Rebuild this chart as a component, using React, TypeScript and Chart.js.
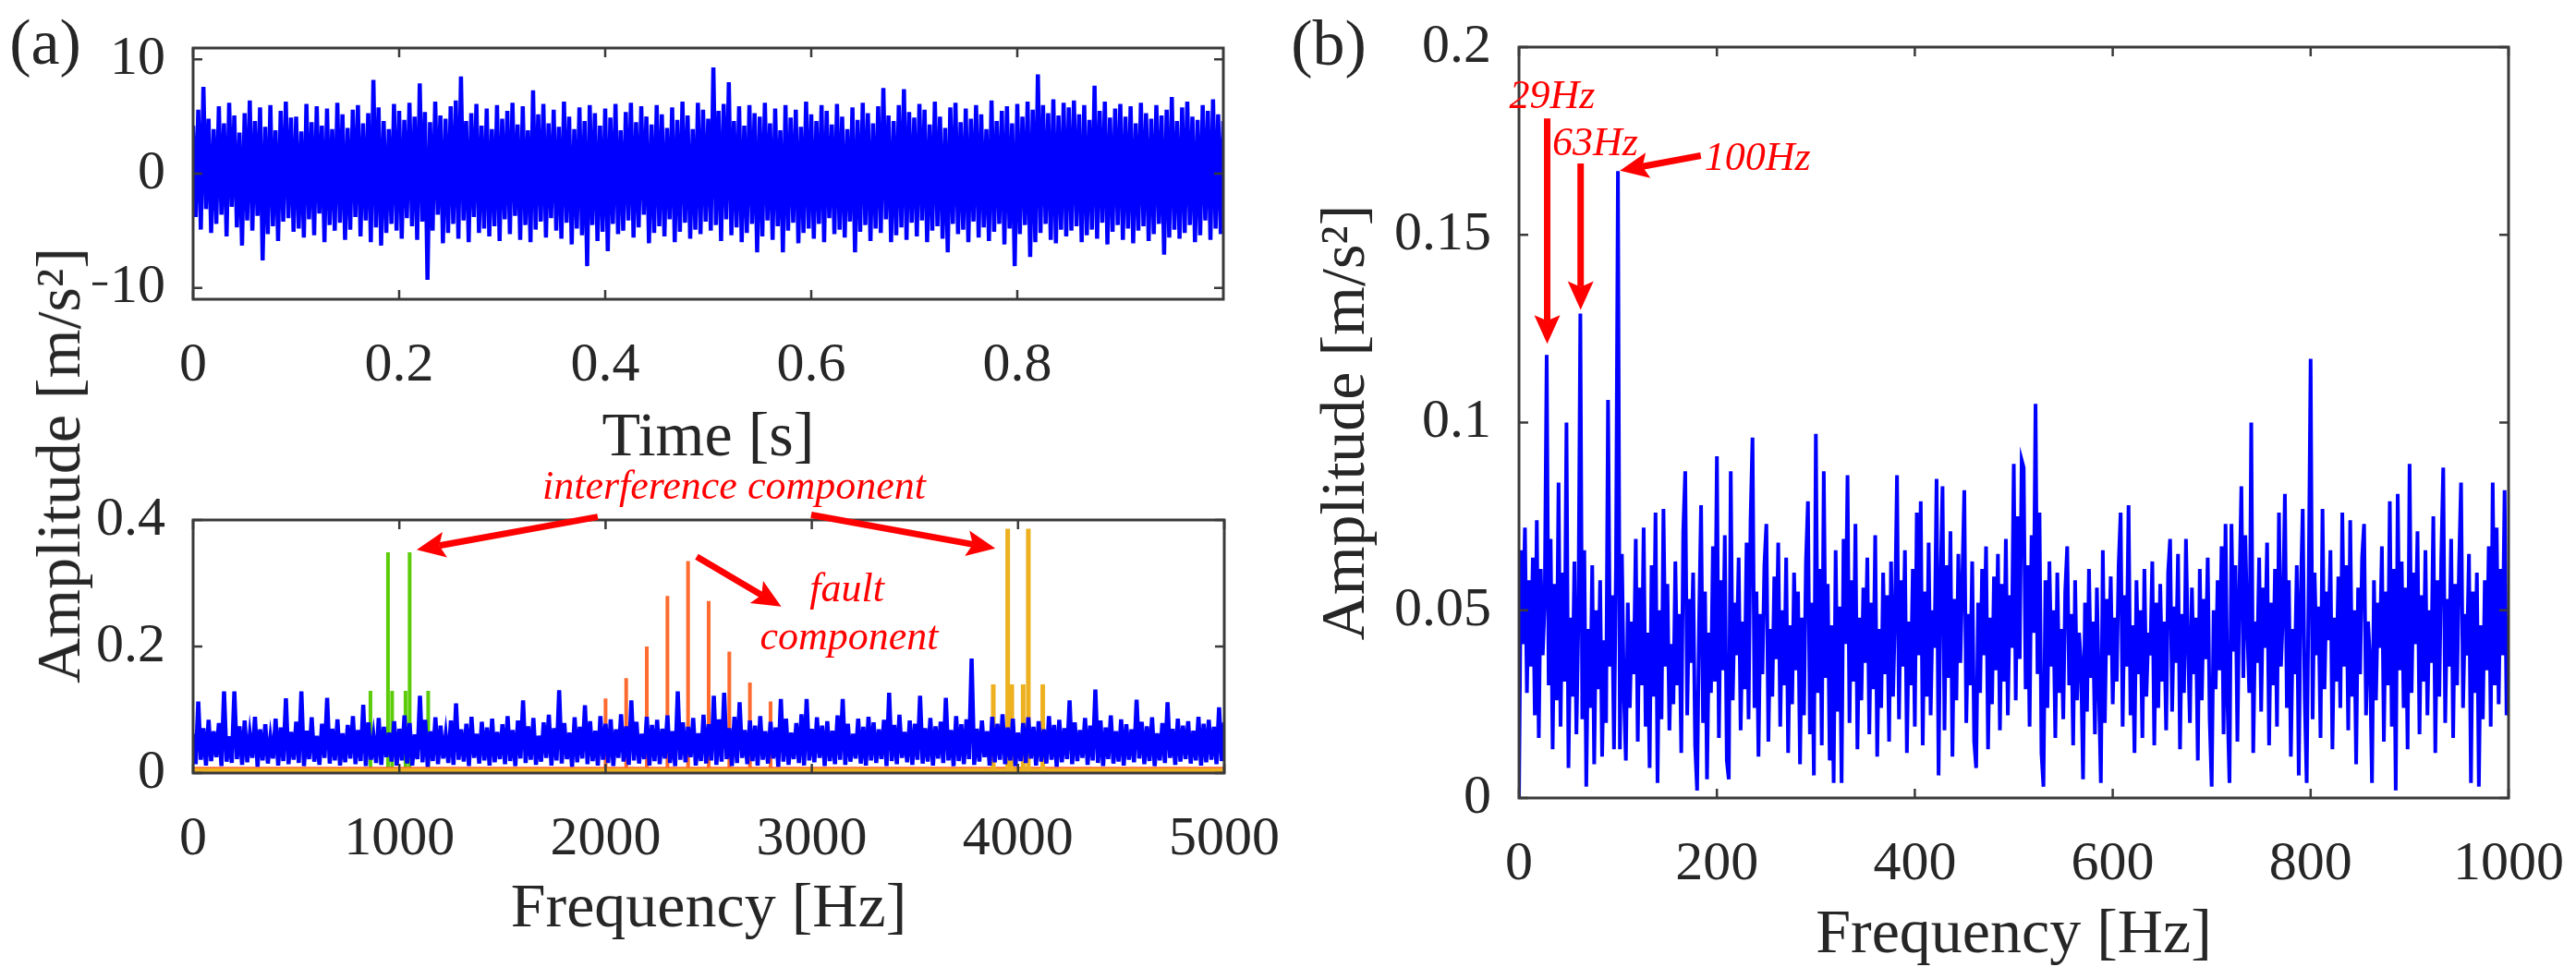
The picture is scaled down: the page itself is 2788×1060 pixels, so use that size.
import React, { useEffect, useRef } from "react";
import { Chart, registerables } from "chart.js";

Chart.register(...registerables);

const FONT = "'Liberation Serif', 'Times New Roman', serif";
const INK = "#262626";
const BOX = "#3a3a3a";

// ---------------- (a) top: time signal ----------------
const timeStep = 0.0025; // s
const timeSignal = [
  4.2, -3.8, 5.6, -4.9, 7.6, -3.1, 4.8, -5.2, 3.9, -4.4, 5.9, -3.6, 4.4, -5.5, 6.2, -2.9, 5.1, -4.7, 3.6, -6.3,
  5.3, -4.1, 6.4, -5.0, 4.6, -3.7, 5.8, -7.6, 4.1, -5.3, 6.0, -4.6, 3.8, -5.9, 5.5, -4.2, 6.3, -3.9, 4.9, -5.1,
  5.0, -4.8, 3.7, -5.6, 6.1, -4.0, 4.5, -5.4, 5.9, -3.5, 4.2, -6.0, 5.7, -4.5, 3.9, -5.0, 6.2, -4.3, 5.2, -5.8,
  4.0, -4.9, 5.6, -3.8, 6.0, -5.5, 4.4, -4.1, 5.3, -6.0, 8.2, -4.7, 5.8, -6.3, 4.6, -5.2, 3.9, -4.4, 6.1, -5.0,
  5.5, -5.7, 4.7, -3.9, 6.2, -4.6, 5.0, -5.8, 7.9, -4.2, 5.4, -9.3, 4.5, -5.0, 6.3, -3.6, 5.1, -6.1, 4.8, -5.2,
  5.9, -4.4, 6.4, -5.7, 8.5, -4.1, 4.6, -6.0, 5.3, -3.8, 6.1, -5.2, 4.2, -4.8, 5.7, -5.5, 3.9, -4.6, 6.0, -5.9,
  4.8, -4.0, 5.5, -5.3, 6.2, -3.7, 4.3, -5.8, 5.9, -4.5, 3.8, -6.0, 7.3, -4.9, 5.2, -4.2, 6.1, -5.6, 4.4, -3.9,
  5.6, -5.0, 4.1, -5.7, 6.3, -4.3, 5.0, -6.2, 3.9, -4.8, 5.8, -5.4, 4.6, -8.1, 6.0, -4.5, 5.3, -5.9, 4.2, -5.1,
  5.7, -6.8, 4.9, -4.4, 6.1, -5.3, 3.8, -5.0, 5.4, -4.1, 6.2, -5.6, 4.5, -4.7, 5.9, -3.6, 5.0, -6.1, 4.3, -5.2,
  6.0, -4.6, 5.2, -5.5, 4.0, -4.0, 5.8, -6.0, 4.7, -5.1, 6.3, -4.3, 5.1, -5.7, 3.9, -4.9, 6.2, -5.3, 5.6, -4.2,
  4.8, -5.0, 9.3, -4.5, 5.5, -5.9, 6.1, -4.0, 8.0, -5.4, 4.6, -4.7, 5.9, -6.0, 4.2, -5.2, 6.0, -4.4, 5.3, -6.9,
  5.0, -5.5, 6.2, -4.1, 4.4, -5.8, 5.7, -4.6, 3.8, -6.9, 6.0, -5.0, 4.9, -4.3, 5.6, -6.1, 4.1, -5.2, 6.3, -4.8,
  5.2, -5.7, 4.6, -4.4, 6.0, -6.0, 5.5, -3.9, 4.3, -5.3, 6.1, -4.9, 5.0, -5.6, 3.9, -4.2, 5.8, -6.9, 4.7, -5.1,
  6.2, -4.5, 5.3, -5.9, 4.4, -4.8, 5.9, -5.2, 7.5, -4.0, 5.1, -6.0, 4.6, -5.4, 6.0, -4.7, 7.4, -5.8, 5.4, -4.3,
  4.9, -5.5, 6.1, -4.1, 5.6, -6.0, 4.3, -5.0, 6.3, -4.6, 5.0, -5.7, 4.0, -6.9, 5.8, -4.4, 6.2, -5.3, 4.5, -4.9,
  5.7, -6.0, 4.8, -4.2, 6.0, -5.6, 5.2, -4.7, 3.9, -5.9, 6.4, -5.1, 4.6, -4.4, 5.5, -6.2, 5.9, -4.8, 4.4, -8.1,
  6.1, -5.3, 5.0, -4.5, 6.3, -7.3, 5.6, -6.0, 8.7, -5.2, 6.0, -4.4, 5.3, -5.8, 6.5, -6.1, 5.1, -4.9, 6.2, -5.5,
  5.8, -5.0, 6.4, -4.6, 5.2, -6.0, 6.0, -5.4, 4.7, -4.9, 7.7, -5.7, 5.5, -4.3, 6.3, -6.2, 4.9, -5.1, 5.7, -4.5,
  6.1, -5.8, 5.0, -4.8, 5.9, -6.1, 4.4, -5.0, 6.2, -4.6, 5.3, -5.9, 4.8, -5.3, 6.0, -4.4, 5.1, -7.1, 5.6, -5.6,
  6.7, -4.9, 4.6, -5.7, 5.8, -5.2, 6.3, -4.5, 5.0, -6.0, 4.7, -5.4, 6.0, -4.1, 5.5, -5.8, 6.5, -4.8, 5.2, -5.3,
  4.6,
];
const timeXTicks = [0, 0.2, 0.4, 0.6, 0.8];
const timeYTicks = [-10, 0, 10];

// ---------------- (a) bottom: full spectrum ----------------
const fullStep = 12.5; // Hz
const fullSpectrum = [
  0.062, 0.014, 0.113, 0.021, 0.071, 0.012, 0.084, 0.019, 0.066, 0.025, 0.079, 0.011, 0.129, 0.018, 0.058, 0.016, 0.129, 0.022, 0.074, 0.013,
  0.083, 0.017, 0.061, 0.024, 0.089, 0.010, 0.069, 0.020, 0.077, 0.015, 0.056, 0.023, 0.086, 0.012, 0.072, 0.019, 0.118, 0.014, 0.065, 0.021,
  0.081, 0.016, 0.129, 0.011, 0.067, 0.022, 0.088, 0.018, 0.059, 0.013, 0.078, 0.024, 0.119, 0.015, 0.070, 0.020, 0.085, 0.012, 0.063, 0.017,
  0.076, 0.023, 0.090, 0.014, 0.068, 0.019, 0.108, 0.011, 0.080, 0.021, 0.057, 0.016, 0.087, 0.013, 0.073, 0.025, 0.064, 0.018, 0.082, 0.012,
  0.070, 0.020, 0.091, 0.015, 0.079, 0.012, 0.061, 0.022, 0.122, 0.017, 0.084, 0.010, 0.066, 0.019, 0.088, 0.014, 0.075, 0.023, 0.060, 0.016,
  0.083, 0.013, 0.110, 0.021, 0.069, 0.018, 0.078, 0.011, 0.089, 0.024, 0.062, 0.015, 0.081, 0.020, 0.072, 0.012, 0.086, 0.017, 0.065, 0.022,
  0.077, 0.014, 0.090, 0.019, 0.068, 0.011, 0.083, 0.023, 0.115, 0.016, 0.074, 0.021, 0.087, 0.013, 0.059, 0.018, 0.080, 0.024, 0.092, 0.012,
  0.071, 0.020, 0.131, 0.015, 0.079, 0.022, 0.064, 0.010, 0.088, 0.017, 0.073, 0.023, 0.107, 0.014, 0.082, 0.019, 0.067, 0.012, 0.090, 0.021,
  0.078, 0.016, 0.085, 0.011, 0.069, 0.024, 0.093, 0.018, 0.074, 0.013, 0.115, 0.020, 0.081, 0.015, 0.062, 0.022, 0.089, 0.012, 0.076, 0.019,
  0.084, 0.014, 0.070, 0.023, 0.091, 0.016, 0.066, 0.011, 0.129, 0.021, 0.080, 0.017, 0.073, 0.025, 0.087, 0.012, 0.063, 0.019, 0.092, 0.015,
  0.077, 0.020, 0.122, 0.013, 0.085, 0.018, 0.127, 0.022, 0.071, 0.011, 0.089, 0.016, 0.112, 0.024, 0.068, 0.014, 0.083, 0.019, 0.075, 0.012,
  0.090, 0.021, 0.066, 0.015, 0.081, 0.023, 0.072, 0.010, 0.117, 0.018, 0.086, 0.013, 0.064, 0.022, 0.079, 0.016, 0.093, 0.012, 0.117, 0.020,
  0.070, 0.017, 0.088, 0.024, 0.075, 0.011, 0.082, 0.019, 0.067, 0.014, 0.091, 0.021, 0.117, 0.013, 0.078, 0.018, 0.062, 0.023, 0.086, 0.015,
  0.073, 0.012, 0.089, 0.020, 0.080, 0.016, 0.069, 0.022, 0.084, 0.011, 0.127, 0.019, 0.076, 0.014, 0.092, 0.024, 0.065, 0.017, 0.083, 0.013,
  0.078, 0.021, 0.122, 0.015, 0.071, 0.018, 0.087, 0.012, 0.074, 0.023, 0.081, 0.016, 0.119, 0.020, 0.068, 0.011, 0.090, 0.019, 0.077, 0.014,
  0.085, 0.022, 0.181, 0.013, 0.070, 0.018, 0.083, 0.025, 0.066, 0.012, 0.089, 0.017, 0.078, 0.021, 0.093, 0.014, 0.072, 0.020, 0.086, 0.011,
  0.064, 0.019, 0.079, 0.016, 0.088, 0.023, 0.073, 0.012, 0.082, 0.018, 0.069, 0.015, 0.090, 0.021, 0.076, 0.010, 0.084, 0.017, 0.071, 0.022,
  0.115, 0.014, 0.080, 0.019, 0.068, 0.024, 0.087, 0.013, 0.075, 0.020, 0.132, 0.016, 0.083, 0.011, 0.072, 0.022, 0.091, 0.015, 0.066, 0.018,
  0.085, 0.012, 0.077, 0.021, 0.069, 0.017, 0.116, 0.023, 0.081, 0.014, 0.074, 0.019, 0.088, 0.011, 0.063, 0.020, 0.079, 0.016, 0.112, 0.024,
  0.070, 0.013, 0.086, 0.018, 0.075, 0.022, 0.082, 0.015, 0.067, 0.020, 0.089, 0.012, 0.078, 0.017, 0.084, 0.021, 0.073, 0.014, 0.104, 0.019,
  0.080,
];
// interference component near 1 kHz (green)
const greenFreqs = [860, 945, 965, 1030, 1050, 1140];
const greenAmps = [0.13, 0.349, 0.13, 0.13, 0.349, 0.13];
// fault component (orange)
const faultFreqs = [2000, 2100, 2200, 2300, 2400, 2500, 2600, 2700, 2800];
const faultAmps = [0.118, 0.15, 0.2, 0.28, 0.335, 0.272, 0.192, 0.143, 0.113];
// interference component near 4 kHz (yellow)
const yellowFreqs = [3880, 3950, 3970, 4025, 4050, 4120];
const yellowAmps = [0.14, 0.386, 0.14, 0.14, 0.386, 0.14];
const fullXTicks = [0, 1000, 2000, 3000, 4000, 5000];
const fullYTicks = [0, 0.2, 0.4];

// ---------------- (b): zoomed spectrum ----------------
const zoomStep = 2; // Hz
const zoomSpectrum = [
  0.000, 0.066, 0.041, 0.072, 0.028, 0.058, 0.035, 0.064, 0.022, 0.074, 0.016, 0.061, 0.038, 0.052, 0.118, 0.030, 0.069, 0.013, 0.057, 0.026, 0.084, 0.019, 0.060, 0.031, 0.100,
  0.008, 0.048, 0.027, 0.063, 0.017, 0.047, 0.129, 0.021, 0.066, 0.003, 0.045, 0.024, 0.062, 0.009, 0.050, 0.029, 0.058, 0.011, 0.042, 0.020, 0.106, 0.035, 0.054, 0.013, 0.061,
  0.167, 0.013, 0.065, 0.028, 0.010, 0.052, 0.024, 0.047, 0.033, 0.069, 0.015, 0.056, 0.030, 0.072, 0.019, 0.044, 0.008, 0.062, 0.027, 0.076, 0.004, 0.050, 0.021, 0.077, 0.035,
  0.057, 0.018, 0.041, 0.025, 0.063, 0.030, 0.049, 0.012, 0.071, 0.087, 0.022, 0.053, 0.036, 0.060, 0.014, 0.002, 0.047, 0.078, 0.020, 0.055, 0.005, 0.044, 0.028, 0.067, 0.031,
  0.091, 0.016, 0.058, 0.034, 0.070, 0.010, 0.005, 0.087, 0.026, 0.052, 0.038, 0.064, 0.018, 0.047, 0.029, 0.068, 0.021, 0.074, 0.096, 0.024, 0.055, 0.011, 0.049, 0.033, 0.062,
  0.073, 0.015, 0.045, 0.027, 0.059, 0.037, 0.068, 0.019, 0.050, 0.030, 0.064, 0.012, 0.046, 0.025, 0.060, 0.034, 0.055, 0.009, 0.048, 0.022, 0.063, 0.079, 0.017, 0.052, 0.006,
  0.097, 0.028, 0.061, 0.014, 0.087, 0.032, 0.057, 0.010, 0.046, 0.004, 0.066, 0.023, 0.051, 0.004, 0.069, 0.041, 0.086, 0.020, 0.058, 0.031, 0.073, 0.013, 0.048, 0.026, 0.056,
  0.036, 0.064, 0.017, 0.052, 0.029, 0.070, 0.011, 0.045, 0.024, 0.060, 0.033, 0.054, 0.015, 0.063, 0.027, 0.049, 0.086, 0.021, 0.058, 0.035, 0.066, 0.012, 0.047, 0.030, 0.061,
  0.019, 0.076, 0.038, 0.079, 0.014, 0.055, 0.027, 0.068, 0.022, 0.050, 0.040, 0.085, 0.006, 0.057, 0.083, 0.018, 0.062, 0.032, 0.071, 0.011, 0.053, 0.026, 0.065, 0.036, 0.058,
  0.082, 0.020, 0.049, 0.030, 0.063, 0.015, 0.008, 0.052, 0.028, 0.061, 0.038, 0.067, 0.013, 0.048, 0.025, 0.059, 0.034, 0.065, 0.018, 0.057, 0.031, 0.069, 0.022, 0.054, 0.040,
  0.089, 0.026, 0.075, 0.037, 0.090, 0.088, 0.029, 0.062, 0.019, 0.070, 0.044, 0.105, 0.033, 0.076, 0.012, 0.003, 0.058, 0.024, 0.063, 0.035, 0.050, 0.016, 0.060, 0.028, 0.045,
  0.021, 0.055, 0.067, 0.030, 0.049, 0.014, 0.058, 0.026, 0.044, 0.036, 0.005, 0.052, 0.023, 0.061, 0.032, 0.047, 0.017, 0.056, 0.029, 0.004, 0.066, 0.020, 0.053, 0.038, 0.059,
  0.025, 0.048, 0.031, 0.062, 0.076, 0.019, 0.054, 0.035, 0.078, 0.022, 0.046, 0.012, 0.058, 0.033, 0.050, 0.016, 0.061, 0.027, 0.044, 0.038, 0.063, 0.014, 0.052, 0.024, 0.057,
  0.031, 0.047, 0.018, 0.060, 0.069, 0.023, 0.051, 0.036, 0.065, 0.013, 0.049, 0.028, 0.069, 0.041, 0.020, 0.056, 0.033, 0.048, 0.010, 0.061, 0.026, 0.053, 0.037, 0.064, 0.021,
  0.003, 0.050, 0.029, 0.058, 0.034, 0.067, 0.017, 0.073, 0.025, 0.004, 0.073, 0.039, 0.062, 0.015, 0.055, 0.083, 0.032, 0.070, 0.045, 0.028, 0.100, 0.012, 0.047, 0.036, 0.064,
  0.023, 0.056, 0.040, 0.068, 0.014, 0.052, 0.030, 0.061, 0.019, 0.076, 0.035, 0.049, 0.081, 0.024, 0.058, 0.011, 0.045, 0.033, 0.062, 0.006, 0.054, 0.077, 0.027, 0.004, 0.057,
  0.117, 0.021, 0.060, 0.038, 0.051, 0.016, 0.077, 0.029, 0.055, 0.042, 0.066, 0.013, 0.048, 0.031, 0.059, 0.024, 0.076, 0.035, 0.062, 0.018, 0.074, 0.027, 0.050, 0.009, 0.056,
  0.033, 0.064, 0.073, 0.022, 0.047, 0.037, 0.004, 0.058, 0.026, 0.052, 0.040, 0.067, 0.015, 0.055, 0.030, 0.079, 0.019, 0.061, 0.002, 0.081, 0.034, 0.063, 0.024, 0.056, 0.013,
  0.089, 0.028, 0.060, 0.041, 0.071, 0.017, 0.054, 0.031, 0.066, 0.022, 0.050, 0.036, 0.075, 0.012, 0.058, 0.027, 0.064, 0.088, 0.020, 0.053, 0.035, 0.069, 0.016, 0.057, 0.030,
  0.062, 0.084, 0.024, 0.049, 0.038, 0.065, 0.004, 0.055, 0.028, 0.060, 0.003, 0.046, 0.021, 0.058, 0.034, 0.067, 0.019, 0.084, 0.030, 0.072, 0.025, 0.061, 0.038, 0.082, 0.022,
  0.048,
];
const zoomXTicks = [0, 200, 400, 600, 800, 1000];
const zoomYTicks = [0, 0.05, 0.1, 0.15, 0.2];

// ---------------- annotations (data coordinates) ----------------
type Arrow = { from: [number, number]; to: [number, number] };
type Note = { text: string; at: [number, number] };
const fullArrows: Arrow[] = [
  { from: [1962, 0.405], to: [1084, 0.353] },
  { from: [2997, 0.408], to: [3890, 0.355] },
  { from: [2442, 0.342], to: [2852, 0.263] },
];
const fullNotes: Note[] = [
  { text: "interference component", at: [2623, 0.434] },
  { text: "fault", at: [3170, 0.271] },
  { text: "component", at: [3181, 0.196] },
];
const zoomArrows: Arrow[] = [
  { from: [28.5, 0.181], to: [28.5, 0.121] },
  { from: [62.3, 0.169], to: [62.3, 0.13] },
  { from: [183.7, 0.1711], to: [102, 0.1671] },
];
const zoomNotes: Note[] = [
  { text: "29Hz", at: [33.6, 0.1838] },
  { text: "63Hz", at: [77, 0.1712] },
  { text: "100Hz", at: [241, 0.1673] },
];

// ---------------- helpers ----------------
const fmt = (v: number) => {
  const r = Math.round(v * 1000) / 1000;
  return r < 0 ? "\u2212" + String(Math.abs(r)) : String(r);
};

const toPoints = (vals: number[], step: number) => vals.map((v, i) => ({ x: i * step, y: v }));

const spikes = (freqs: number[], amps: number[], base: number, end: number) => {
  const pts: { x: number; y: number }[] = [{ x: 0, y: base }];
  freqs.forEach((f, i) => {
    pts.push({ x: f, y: base }, { x: f, y: amps[i] }, { x: f, y: base });
  });
  pts.push({ x: end, y: base });
  return pts;
};

const boxPlugin = {
  id: "matlabBox",
  afterDatasetsDraw(chart: any) {
    const { ctx, chartArea: a, scales } = chart;
    const xs = scales.x;
    const ys = scales.y;
    ctx.save();
    ctx.strokeStyle = BOX;
    ctx.lineWidth = 2.5;
    const tl = 10;
    ctx.beginPath();
    xs.ticks.forEach((t: any) => {
      const p = xs.getPixelForValue(t.value);
      ctx.moveTo(p, a.bottom);
      ctx.lineTo(p, a.bottom - tl);
      ctx.moveTo(p, a.top);
      ctx.lineTo(p, a.top + tl);
    });
    ys.ticks.forEach((t: any) => {
      const p = ys.getPixelForValue(t.value);
      ctx.moveTo(a.left, p);
      ctx.lineTo(a.left + tl, p);
      ctx.moveTo(a.right, p);
      ctx.lineTo(a.right - tl, p);
    });
    ctx.stroke();
    ctx.lineWidth = 3;
    ctx.strokeRect(a.left, a.top, a.right - a.left, a.bottom - a.top);
    ctx.restore();
  },
};

const notesPlugin = (arrows: Arrow[], notes: Note[]) => ({
  id: "redNotes",
  afterDraw(chart: any) {
    const { ctx } = chart;
    const xs = chart.scales.x;
    const ys = chart.scales.y;
    ctx.save();
    ctx.fillStyle = "#ff0000";
    ctx.strokeStyle = "#ff0000";
    arrows.forEach((ar) => {
      const x1 = xs.getPixelForValue(ar.from[0]);
      const y1 = ys.getPixelForValue(ar.from[1]);
      const x2 = xs.getPixelForValue(ar.to[0]);
      const y2 = ys.getPixelForValue(ar.to[1]);
      const ang = Math.atan2(y2 - y1, x2 - x1);
      const c = Math.cos(ang);
      const s = Math.sin(ang);
      const hl = 31;
      const hw = 14;
      const bx = x2 - hl * c;
      const by = y2 - hl * s;
      const nx = x2 - hl * 0.8 * c;
      const ny = y2 - hl * 0.8 * s;
      ctx.lineWidth = 7;
      ctx.lineCap = "butt";
      ctx.beginPath();
      ctx.moveTo(x1, y1);
      ctx.lineTo(nx, ny);
      ctx.stroke();
      ctx.beginPath();
      ctx.moveTo(x2, y2);
      ctx.lineTo(bx + hw * s, by - hw * c);
      ctx.lineTo(nx, ny);
      ctx.lineTo(bx - hw * s, by + hw * c);
      ctx.closePath();
      ctx.fill();
    });
    ctx.font = `italic 44px ${FONT}`;
    ctx.textAlign = "center";
    ctx.textBaseline = "alphabetic";
    notes.forEach((n) => {
      ctx.fillText(n.text, xs.getPixelForValue(n.at[0]), ys.getPixelForValue(n.at[1]));
    });
    ctx.restore();
  },
});

type AxisSpec = {
  min: number;
  max: number;
  ticks: number[];
  size: number;
  title?: string;
  titlePad?: number;
};

const xAxis = (a: AxisSpec) => ({
  type: "linear",
  position: "bottom",
  min: a.min,
  max: a.max,
  grid: { display: false, drawTicks: true, tickLength: 32 },
  border: { display: false },
  afterBuildTicks: (s: any) => {
    s.ticks = a.ticks.map((v) => ({ value: v }));
  },
  ticks: {
    autoSkip: false,
    maxRotation: 0,
    padding: 4,
    color: INK,
    font: { family: FONT, size: 60 },
    callback: (v: any) => fmt(Number(v)),
  },
  title: a.title
    ? {
        display: true,
        text: a.title,
        color: INK,
        font: { family: FONT, size: 68 },
        padding: { top: 0, bottom: a.titlePad ?? 0 },
      }
    : { display: false },
  afterFit: (s: any) => {
    s.height = a.size;
  },
});

const yAxis = (a: AxisSpec) => ({
  type: "linear",
  position: "left",
  min: a.min,
  max: a.max,
  grid: { display: false, drawTicks: true, tickLength: 26 },
  border: { display: false },
  afterBuildTicks: (s: any) => {
    s.ticks = a.ticks.map((v) => ({ value: v }));
  },
  ticks: {
    autoSkip: false,
    padding: 4,
    color: INK,
    font: { family: FONT, size: 60 },
    callback: (v: any) => fmt(Number(v)),
  },
  title: a.title
    ? {
        display: true,
        text: a.title,
        color: INK,
        font: { family: FONT, size: 68 },
        padding: { top: a.titlePad ?? 0, bottom: 0 },
      }
    : { display: false },
  afterFit: (s: any) => {
    s.width = a.size;
  },
});

const baseOptions = (padding: any, x: any, y: any) => ({
  responsive: false,
  animation: false,
  events: [],
  layout: { padding },
  elements: { point: { radius: 0 }, line: { tension: 0, borderJoinStyle: "miter" } },
  plugins: { legend: { display: false }, tooltip: { enabled: false } },
  scales: { x, y },
});

// ---------------- configs ----------------
const timeConfig = () => ({
  type: "line",
  data: {
    datasets: [
      {
        data: toPoints(timeSignal, timeStep),
        borderColor: "#0000ff",
        borderWidth: 4.5,
      },
    ],
  },
  options: baseOptions(
    { left: 0, top: 52, right: 26, bottom: 0 },
    xAxis({ min: 0, max: 1, ticks: timeXTicks, size: 196, title: "Time [s]", titlePad: 4 }),
    yAxis({ min: -11, max: 11, ticks: timeYTicks, size: 109 })
  ),
  plugins: [boxPlugin],
});

const fullConfig = () => ({
  type: "line",
  data: {
    datasets: [
      { data: toPoints(fullSpectrum, fullStep), borderColor: "#0000ff", borderWidth: 4.5, order: 0 },
      { data: spikes(yellowFreqs, yellowAmps, 0.004, 5000), borderColor: "#edb120", borderWidth: 5, order: 1 },
      { data: spikes(faultFreqs, faultAmps, 0.007, 5000), borderColor: "#ff6a2e", borderWidth: 4, order: 2 },
      { data: spikes(greenFreqs, greenAmps, 0.003, 5000), borderColor: "#5ccc0a", borderWidth: 4, order: 3 },
    ],
  },
  options: baseOptions(
    { left: 0, top: 73, right: 75, bottom: 0 },
    xAxis({ min: 0, max: 5000, ticks: fullXTicks, size: 223, title: "Frequency [Hz]", titlePad: 34 }),
    yAxis({ min: 0, max: 0.4, ticks: fullYTicks, size: 109 })
  ),
  plugins: [boxPlugin, notesPlugin(fullArrows, fullNotes)],
});

const zoomConfig = () => ({
  type: "line",
  data: {
    datasets: [
      {
        data: toPoints(zoomSpectrum, zoomStep),
        borderColor: "#0000ff",
        borderWidth: 4,
      },
    ],
  },
  options: baseOptions(
    { left: 0, top: 51, right: 73, bottom: 0 },
    xAxis({ min: 0, max: 1000, ticks: zoomXTicks, size: 196, title: "Frequency [Hz]", titlePad: 6 }),
    yAxis({ min: 0, max: 0.2, ticks: zoomYTicks, size: 264, title: "Amplitude [m/s\u00b2]", titlePad: 37 })
  ),
  plugins: [boxPlugin, notesPlugin(zoomArrows, zoomNotes)],
});

// ---------------- components ----------------
function Plot(props: { left: number; top: number; width: number; height: number; make: () => any }) {
  const ref = useRef<HTMLCanvasElement>(null);
  useEffect(() => {
    const chart = new Chart(ref.current as HTMLCanvasElement, props.make());
    return () => chart.destroy();
  }, []);
  return (
    <canvas
      ref={ref}
      width={props.width}
      height={props.height}
      style={{
        position: "absolute",
        left: props.left,
        top: props.top,
        width: props.width,
        height: props.height,
      }}
    />
  );
}

const textStyle = (x: number, y: number, size: number, rotate = 0): React.CSSProperties => ({
  position: "absolute",
  left: x,
  top: y,
  transform: `translate(-50%, -50%) rotate(${rotate}deg)`,
  fontFamily: FONT,
  fontSize: size,
  lineHeight: 1,
  color: INK,
  whiteSpace: "nowrap",
});

export default function App() {
  return (
    <div
      style={{
        position: "absolute",
        left: 0,
        top: 0,
        width: 2788,
        height: 1060,
        background: "#ffffff",
        overflow: "hidden",
      }}
    >
      <Plot left={100} top={0} width={1250} height={520} make={timeConfig} />
      <Plot left={100} top={490} width={1300} height={570} make={fullConfig} />
      <Plot left={1380} top={0} width={1408} height={1060} make={zoomConfig} />
      <div style={textStyle(63, 504, 68, -90)}>Amplitude [m/s²]</div>
      <div style={textStyle(49, 46, 70)}>(a)</div>
      <div style={textStyle(1438, 47, 70)}>(b)</div>
    </div>
  );
}
